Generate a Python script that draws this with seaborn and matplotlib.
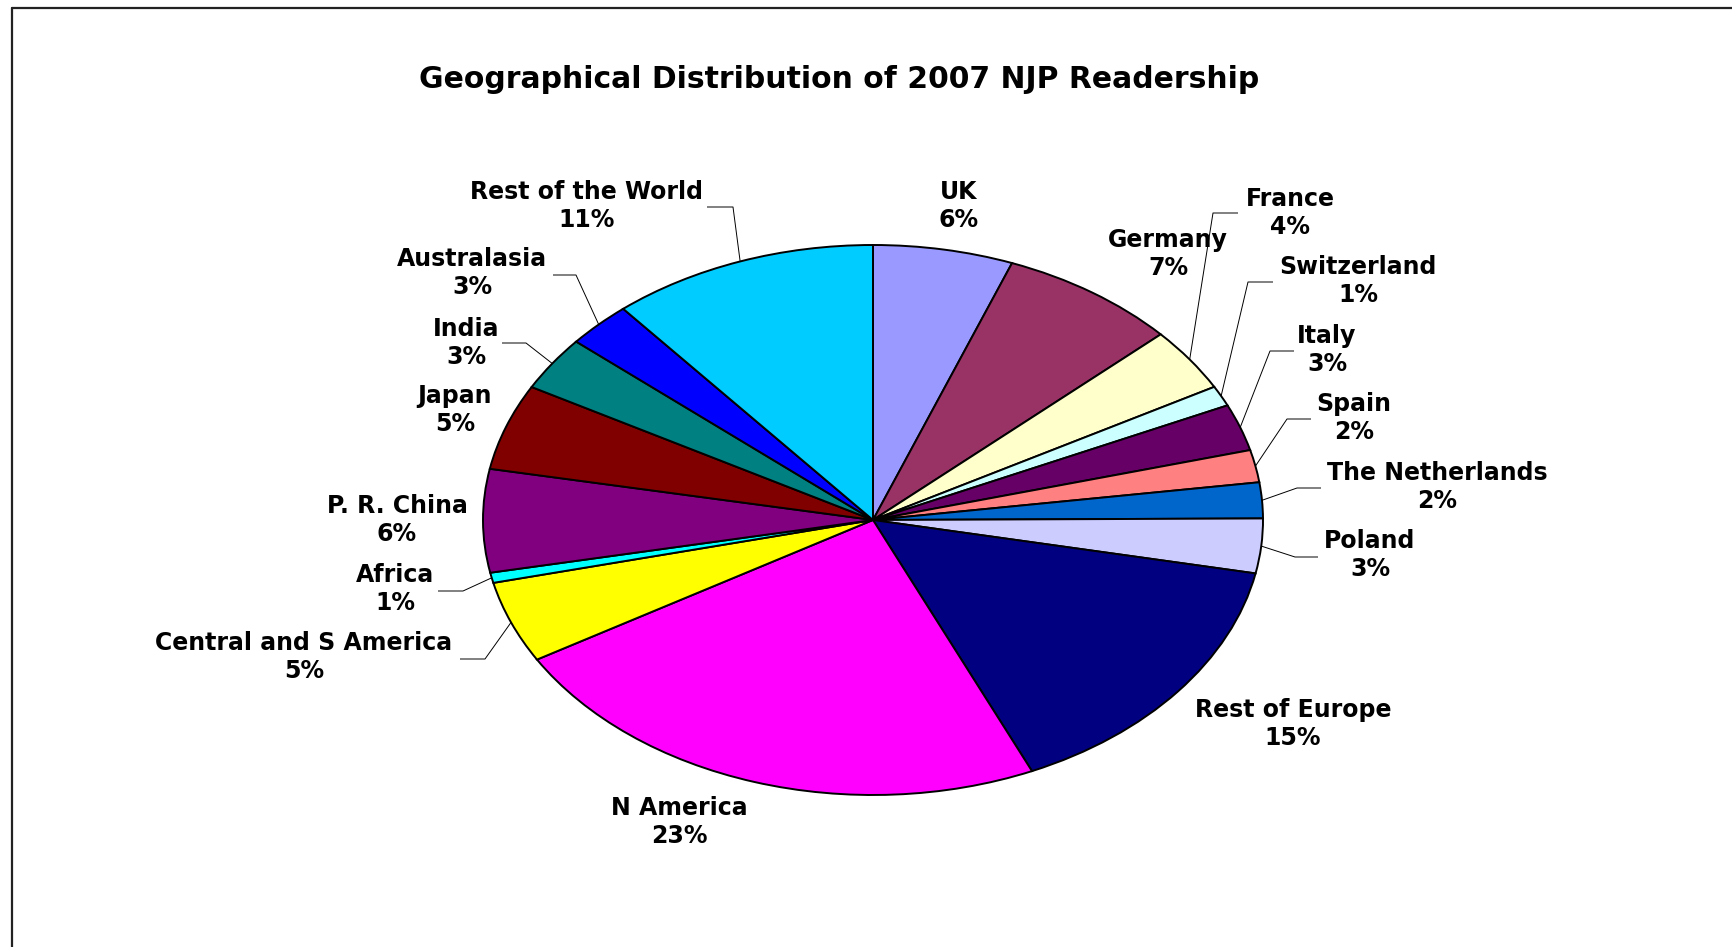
import numpy as np
import matplotlib
matplotlib.use("Agg")
import matplotlib.pyplot as plt
from matplotlib.lines import Line2D
import seaborn as sns

# SECTION 1: Data
regions = [
    "UK", "Germany", "France", "Switzerland", "Italy", "Spain",
    "The Netherlands", "Poland", "Rest of Europe", "N America",
    "Central and S America", "Africa", "P. R. China", "Japan", "India",
    "Australasia", "Rest of the World",
]
shares = [5.8, 7.4, 3.75, 1.2, 2.75, 1.9, 2.1, 3.2, 15.2, 23.2,
          4.8, 0.6, 6.05, 5.05, 3.2, 2.7, 11.06]

# Excel 2003 default palette
colors = [
    "#9999FF", "#993366", "#FFFFCC", "#CCFFFF", "#660066", "#FF8080",
    "#0066CC", "#CCCCFF", "#000080", "#FF00FF", "#FFFF00", "#00FFFF",
    "#800080", "#800000", "#008080", "#0000FF", "#00CCFF",
]

# SECTION 2: Layout (pixels in the 1733x947 output)
W, H = 1733, 947
cx, cy, rx, ry = 873, 520, 390, 275  # ellipse centre and radii

label_xy = {
    "UK": (959, 206), "Germany": (1168, 254), "France": (1290, 213),
    "Switzerland": (1358, 281), "Italy": (1327, 350), "Spain": (1354, 418),
    "The Netherlands": (1437, 487), "Poland": (1370, 555),
    "Rest of Europe": (1293, 724), "N America": (679, 822),
    "Central and S America": (304, 657), "Africa": (395, 589),
    "P. R. China": (397, 520), "Japan": (455, 410), "India": (466, 343),
    "Australasia": (472, 273), "Rest of the World": (587, 206),
}

# leader lines: elbow point and end of the short horizontal piece
leaders = {
    "France": ((1213, 213), (1238, 213)),
    "Switzerland": ((1248, 282), (1273, 282)),
    "Italy": ((1270, 351), (1294, 351)),
    "Spain": ((1287, 419), (1311, 419)),
    "The Netherlands": ((1297, 488), (1321, 488)),
    "Poland": ((1295, 557), (1318, 557)),
    "Central and S America": ((485, 659), (460, 659)),
    "Africa": ((463, 591), (438, 591)),
    "India": ((526, 343), (502, 343)),
    "Australasia": ((576, 275), (553, 275)),
    "Rest of the World": ((733, 207), (707, 207)),
}


def to_data(px, py):
    return (px - cx) / rx, (cy - py) / ry


# SECTION 3: Plot
sns.set_theme(style="white")
plt.rcParams['font.family'] = ['DejaVu Sans']
plt.rcParams['text.color'] = 'black'

fig = plt.figure(figsize=(W / 100, H / 100), dpi=100)
fig.patch.set_facecolor("white")
ax = fig.add_axes([0, 0, 1, 1])

wedges, _ = ax.pie(
    shares, colors=colors, startangle=90, counterclock=False,
    wedgeprops=dict(edgecolor="black", linewidth=1.4),
)
ax.set_aspect("auto")
ax.set_xlim(-cx / rx, (W - cx) / rx)
ax.set_ylim(-(H - cy) / ry, cy / ry)
ax.axis("off")

for name, share, w in zip(regions, shares, wedges):
    lx, ly = to_data(*label_xy[name])
    ax.text(lx, ly, f"{name}\n{share:.0f}%", ha="center", va="center",
            fontsize=17, fontweight="bold", linespacing=1.25, color="black")
    if name in leaders:
        mid = np.deg2rad((w.theta1 + w.theta2) / 2)
        ex, ey = to_data(*leaders[name][0])
        hx, hy = to_data(*leaders[name][1])
        ax.plot([np.cos(mid), ex, hx], [np.sin(mid), ey, hy],
                color="black", linewidth=0.7, solid_capstyle="butt")

fig.text(839 / W, 1 - 80 / H, "Geographical Distribution of 2007 NJP Readership",
         ha="center", va="center", fontsize=21.5, fontweight="bold", color="black")

# chart area border (top and left edges visible)
fig.add_artist(Line2D([12 / W, 1], [1 - 8 / H, 1 - 8 / H], transform=fig.transFigure,
                      color="#222222", linewidth=1.6))
fig.add_artist(Line2D([12 / W, 12 / W], [0, 1 - 8 / H], transform=fig.transFigure,
                      color="#222222", linewidth=1.6))

fig.savefig("out.png", dpi=100, facecolor="white")
plt.close(fig)
